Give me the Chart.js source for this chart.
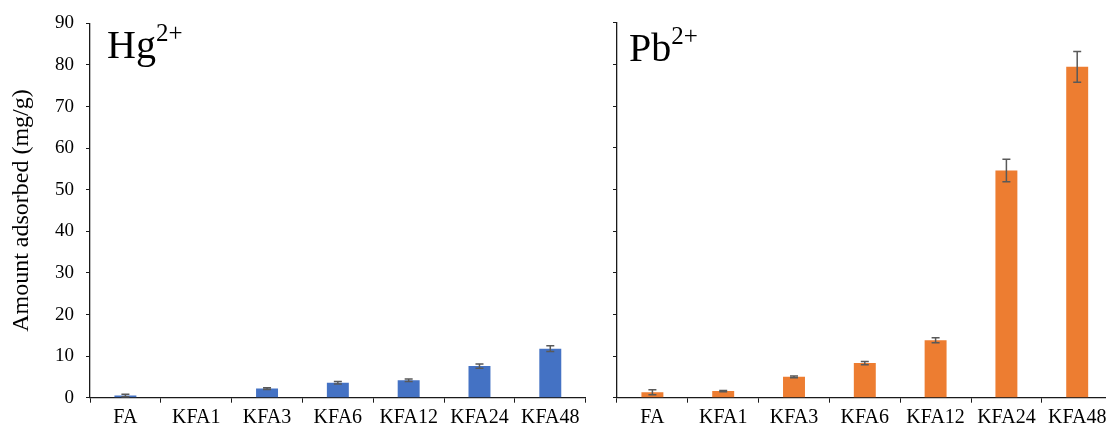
<!DOCTYPE html>
<html>
<head>
<meta charset="utf-8">
<script src="https://cdn.jsdelivr.net/npm/chart.js@4/dist/chart.umd.min.js"></script>
<style>
  html, body { margin: 0; padding: 0; background: #fff; overflow: hidden; }
  #wrap { position: relative; width: 1106px; height: 428px; overflow: hidden; }
  canvas { position: absolute; top: 0; }
  #hgChart { left: 0; }
  #pbChart { left: 600px; }
  .ion {
    position: absolute;
    font-family: "Liberation Serif", "DejaVu Serif", serif;
    font-size: 40px;
    line-height: 40px;
    color: #000;
    white-space: nowrap;
  }
  .ion span { font-size: 25px; position: relative; top: -17px; }
</style>
</head>
<body>
<div id="wrap">
  <canvas id="hgChart" width="600" height="428"></canvas>
  <canvas id="pbChart" width="520" height="428"></canvas>
  <div class="ion" style="left:107px; top:25px;">Hg<span>2+</span></div>
  <div class="ion" style="left:629px; top:28px;">Pb<span>2+</span></div>
</div>
<script>
// categories and values
const categories = ["FA", "KFA1", "KFA3", "KFA6", "KFA12", "KFA24", "KFA48"];
const hgValues = [0.5, 0, 2.2, 3.6, 4.2, 7.6, 11.8];
const hgErrors = [0.3, 0, 0.2, 0.3, 0.3, 0.5, 0.7];
const pbValues = [1.3, 1.6, 5.0, 8.3, 13.8, 54.5, 79.4];
const pbErrors = [0.6, 0.15, 0.2, 0.4, 0.6, 2.7, 3.7];
const yMin = 0;
const yMax = 90;
const yStep = 10;

const serif = '"Liberation Serif", "DejaVu Serif", serif';

// draws the +/- error whiskers on top of each bar
const errorBars = {
  id: "errorBars",
  afterDatasetsDraw(chart) {
    const ctx = chart.ctx;
    const y = chart.scales.y;
    chart.data.datasets.forEach((ds, di) => {
      const meta = chart.getDatasetMeta(di);
      meta.data.forEach((bar, i) => {
        const err = ds.errors[i];
        if (!err) return;
        const top = y.getPixelForValue(ds.data[i] + err);
        const bot = y.getPixelForValue(ds.data[i] - err);
        ctx.save();
        ctx.strokeStyle = "#595959";
        ctx.lineWidth = 1.5;
        ctx.beginPath();
        ctx.moveTo(bar.x, top);
        ctx.lineTo(bar.x, bot);
        ctx.moveTo(bar.x - 4, top);
        ctx.lineTo(bar.x + 4, top);
        ctx.moveTo(bar.x - 4, bot);
        ctx.lineTo(bar.x + 4, bot);
        ctx.stroke();
        ctx.restore();
      });
    });
  }
};

const makeChart = (canvasId, values, errors, color, showLabels, axisWidth, padRight) => {
  const ctx = document.getElementById(canvasId).getContext("2d");
  return new Chart(ctx, {
    type: "bar",
    data: {
      labels: categories,
      datasets: [{
        data: values,
        errors: errors,
        backgroundColor: color,
        borderWidth: 0,
        categoryPercentage: 1,
        barPercentage: 0.31
      }]
    },
    options: {
      responsive: false,
      animation: false,
      devicePixelRatio: 1,
      layout: { padding: { top: 22.7, right: padRight, left: 0, bottom: 0 } },
      plugins: { legend: { display: false }, tooltip: { enabled: false } },
      scales: {
        x: {
          grid: { display: true, drawOnChartArea: false, drawTicks: true, tickLength: 5, color: "#1a1a1a", offset: true },
          border: { color: "#1a1a1a", width: 1.3 },
          ticks: { color: "#000", font: { family: serif, size: 20 }, padding: 3, maxRotation: 0, autoSkip: false },
          afterFit: (scale) => { scale.height = 30.3; }
        },
        y: {
          min: yMin,
          max: yMax,
          grid: { display: true, drawOnChartArea: false, drawTicks: true, tickLength: 4, color: "#1a1a1a" },
          border: { color: "#1a1a1a", width: 1.3 },
          ticks: { display: showLabels, stepSize: yStep, color: "#000", font: { family: serif, size: 19 }, padding: 12 },
          title: {
            display: showLabels,
            text: "Amount adsorbed (mg/g)",
            color: "#000",
            font: { family: serif, size: 24 },
            padding: { top: 7, bottom: 0 }
          },
          afterFit: (scale) => { scale.width = axisWidth; }
        }
      }
    },
    plugins: [errorBars]
  });
};

makeChart("hgChart", hgValues, hgErrors, "#4472C4", true, 90, 14.3);
makeChart("pbChart", pbValues, pbErrors, "#ED7D31", false, 17, 7.4);
</script>
</body>
</html>
